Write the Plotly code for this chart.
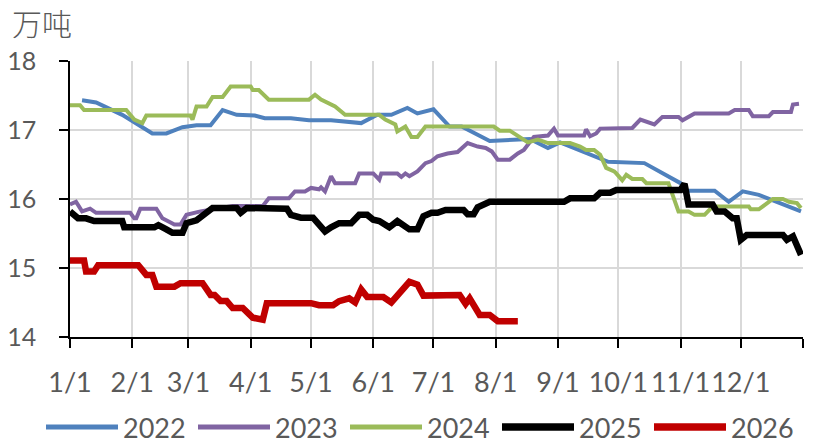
import plotly.graph_objects as go

# ---------------- data (x = day of year, 0 = Jan 1) ----------------
month_ticks = [0, 31, 59, 90, 120, 151, 181, 212, 243, 273, 304, 334, 365]
month_labels = ["1/1", "2/1", "3/1", "4/1", "5/1", "6/1", "7/1", "8/1",
                "9/1", "10/1", "11/1", "12/1", ""]

series_names = ["2022", "2023", "2024", "2025", "2026"]

days_2022 = [6, 13, 26, 35, 41, 48, 56, 63, 70, 76, 83, 92, 97, 110, 119, 130,
             145, 153, 160, 168, 173, 181, 189, 195, 209, 229, 238, 244, 268,
             286, 304, 307, 321, 328, 335, 343, 364]
vals_2022 = [17.43, 17.40, 17.22, 17.05, 16.95, 16.95, 17.04, 17.07, 17.07,
             17.29, 17.22, 17.21, 17.17, 17.17, 17.14, 17.14, 17.10, 17.22,
             17.22, 17.32, 17.24, 17.30, 17.05, 17.05, 16.84, 16.87, 16.74,
             16.82, 16.54, 16.52, 16.23, 16.12, 16.12, 15.96, 16.11, 16.06,
             15.82]

days_2023 = [0, 3, 6, 10, 13, 30, 32, 33, 35, 43, 46, 52, 55, 58, 65, 81, 96,
             99, 109, 112, 117, 120, 124, 125, 127, 130, 132, 142, 144, 151,
             154, 155, 163, 165, 167, 169, 173, 177, 180, 183, 188, 193, 198,
             203, 207, 210, 213, 219, 223, 226, 231, 238, 241, 243, 256, 257,
             259, 262, 264, 280, 284, 288, 291, 295, 303, 305, 308, 311, 328,
             331, 338, 340, 348, 350, 359, 360, 363]
vals_2023 = [15.92, 15.96, 15.82, 15.86, 15.80, 15.80, 15.72, 15.72, 15.86,
             15.86, 15.72, 15.63, 15.63, 15.77, 15.82, 15.90, 15.90, 16.01,
             16.01, 16.11, 16.11, 16.16, 16.14, 16.17, 16.11, 16.33, 16.23,
             16.23, 16.37, 16.37, 16.28, 16.37, 16.37, 16.32, 16.37, 16.33,
             16.40, 16.52, 16.55, 16.62, 16.66, 16.68, 16.81, 16.76, 16.74,
             16.69, 16.57, 16.57, 16.66, 16.71, 16.90, 16.92, 17.02, 16.92,
             16.92, 17.01, 16.91, 16.95, 17.02, 17.03, 17.15, 17.11, 17.08,
             17.19, 17.19, 17.14, 17.19, 17.24, 17.24, 17.29, 17.29, 17.20,
             17.20, 17.26, 17.26, 17.37, 17.38]

days_2024 = [0, 5, 7, 28, 32, 36, 38, 60, 61, 63, 68, 71, 76, 80, 90, 91, 94,
             99, 119, 122, 125, 132, 137, 154, 157, 162, 163, 167, 170, 173,
             177, 211, 214, 219, 228, 233, 238, 249, 254, 257, 261, 264, 267,
             271, 272, 275, 277, 280, 285, 287, 298, 300, 303, 308, 311, 316,
             320, 338, 339, 343, 346, 350, 355, 358, 362, 364]
vals_2024 = [17.36, 17.36, 17.29, 17.29, 17.15, 17.10, 17.21, 17.21, 17.15,
             17.34, 17.34, 17.48, 17.48, 17.63, 17.63, 17.58, 17.58, 17.44,
             17.44, 17.51, 17.44, 17.34, 17.22, 17.22, 17.15, 17.08, 16.98,
             17.05, 16.90, 16.90, 17.05, 17.05, 16.99, 16.99, 16.82, 16.86,
             16.81, 16.81, 16.76, 16.71, 16.71, 16.64, 16.45, 16.40, 16.37,
             16.27, 16.35, 16.29, 16.29, 16.23, 16.23, 16.06, 15.82, 15.82,
             15.77, 15.77, 15.89, 15.89, 15.85, 15.85, 15.92, 16.00, 16.00,
             15.96, 15.94, 15.87]

days_2025 = [0, 4, 8, 12, 26, 27, 42, 44, 48, 51, 56, 58, 63, 67, 71, 83, 85,
             88, 108, 110, 115, 121, 124, 127, 130, 134, 140, 144, 148, 151,
             154, 159, 163, 169, 173, 176, 180, 183, 187, 196, 198, 201, 203,
             209, 246, 249, 261, 264, 269, 272, 304, 306, 308, 320, 322, 326,
             330, 332, 334, 337, 355, 357, 360, 364]
vals_2025 = [15.82, 15.72, 15.72, 15.68, 15.68, 15.59, 15.59, 15.62, 15.56,
             15.51, 15.51, 15.65, 15.69, 15.77, 15.87, 15.87, 15.80, 15.87,
             15.86, 15.77, 15.73, 15.73, 15.63, 15.53, 15.59, 15.65, 15.65,
             15.77, 15.77, 15.70, 15.68, 15.59, 15.68, 15.56, 15.56, 15.75,
             15.80, 15.80, 15.84, 15.84, 15.78, 15.78, 15.88, 15.96, 15.96,
             16.01, 16.01, 16.09, 16.09, 16.13, 16.13, 16.22, 15.92, 15.92,
             15.82, 15.82, 15.72, 15.72, 15.41, 15.48, 15.48, 15.41, 15.46,
             15.19]

days_2026 = [0, 7, 8, 12, 14, 34, 38, 41, 43, 52, 55, 66, 70, 72, 75, 78, 81,
             86, 91, 96, 98, 120, 124, 131, 134, 139, 142, 145, 148, 156, 160,
             164, 169, 173, 176, 194, 197, 199, 204, 209, 213, 223]
vals_2026 = [15.11, 15.11, 14.95, 14.95, 15.04, 15.04, 14.90, 14.90, 14.73,
             14.73, 14.78, 14.78, 14.61, 14.61, 14.52, 14.52, 14.42, 14.42,
             14.28, 14.25, 14.49, 14.49, 14.46, 14.46, 14.52, 14.56, 14.50,
             14.69, 14.58, 14.58, 14.50, 14.65, 14.80, 14.76, 14.60, 14.61,
             14.48, 14.56, 14.32, 14.32, 14.23, 14.23]

series_days = [days_2022, days_2023, days_2024, days_2025, days_2026]
series_vals = [vals_2022, vals_2023, vals_2024, vals_2025, vals_2026]

# ---------------- styles ----------------
colors = ["#4F81BD", "#8064A2", "#9BBB59", "#000000", "#C00000"]
widths = [4, 4, 4, 6.5, 6.5]
FONT = "Lato, 'Open Sans', sans-serif"
GREY = "#595959"

W, H = 817, 448
L, R, T, B = 70, 14, 61, 111
PW, PH = W - L - R, H - T - B


def fx(px):
    return (px - L) / PW


def fy(py):
    return (H - B - py) / PH


fig = go.Figure()
for name, d, v, c, w in zip(series_names, series_days, series_vals, colors, widths):
    fig.add_trace(go.Scatter(x=d, y=v, mode="lines", name=name,
                             line=dict(color=c, width=w),
                             showlegend=False, hoverinfo="skip"))

# custom legend (long line samples like the original)
shapes = []
annotations = []
leg_y = 427
leg_starts = [46, 198, 350, 502, 654]
for name, c, w, x0 in zip(series_names, colors, widths, leg_starts):
    shapes.append(dict(type="line", xref="paper", yref="paper",
                       x0=fx(x0), x1=fx(x0 + 72), y0=fy(leg_y), y1=fy(leg_y),
                       line=dict(color=c, width=w + 1)))
    annotations.append(dict(text=name, xref="paper", yref="paper",
                            x=fx(x0 + 75), y=fy(leg_y), xanchor="left",
                            yanchor="middle", showarrow=False,
                            font=dict(family=FONT, size=27, color=GREY)))

annotations.append(dict(text="万吨", xref="paper", yref="paper",
                        x=fx(10), y=fy(22), xanchor="left", yanchor="middle",
                        showarrow=False,
                        font=dict(family="'Noto Sans CJK SC'", size=30,
                                  color=GREY, weight=300)))

fig.update_layout(
    width=W, height=H,
    margin=dict(l=L, r=R, t=T, b=B, autoexpand=False),
    paper_bgcolor="white", plot_bgcolor="white",
    shapes=shapes, annotations=annotations,
    showlegend=False,
)
fig.update_xaxes(range=[0, 365], tickmode="array", tickvals=month_ticks,
                 ticktext=month_labels, tickangle=0, automargin=False,
                 showgrid=True, gridcolor="#D9D9D9",
                 gridwidth=1.5, showline=True, linecolor="black", linewidth=1.5,
                 ticks="outside", ticklen=9, tickwidth=1.5, tickcolor="black",
                 tickfont=dict(family=FONT, size=27, color=GREY),
                 ticklabelstandoff=12, zeroline=False, fixedrange=True)
fig.update_yaxes(range=[14, 18], dtick=1, tick0=14, showgrid=True,
                 automargin=False,
                 gridcolor="#D9D9D9", gridwidth=1.5, showline=True,
                 linecolor="black", linewidth=1.5, ticks="outside", ticklen=9,
                 tickwidth=1.5, tickcolor="black",
                 tickfont=dict(family=FONT, size=25, color=GREY),
                 ticklabelstandoff=18, zeroline=False, fixedrange=True)

fig.write_html("out.html", config={"displayModeBar": False},
               post_script="document.body.style.margin='0';"
                           "document.body.style.overflow='hidden';")
